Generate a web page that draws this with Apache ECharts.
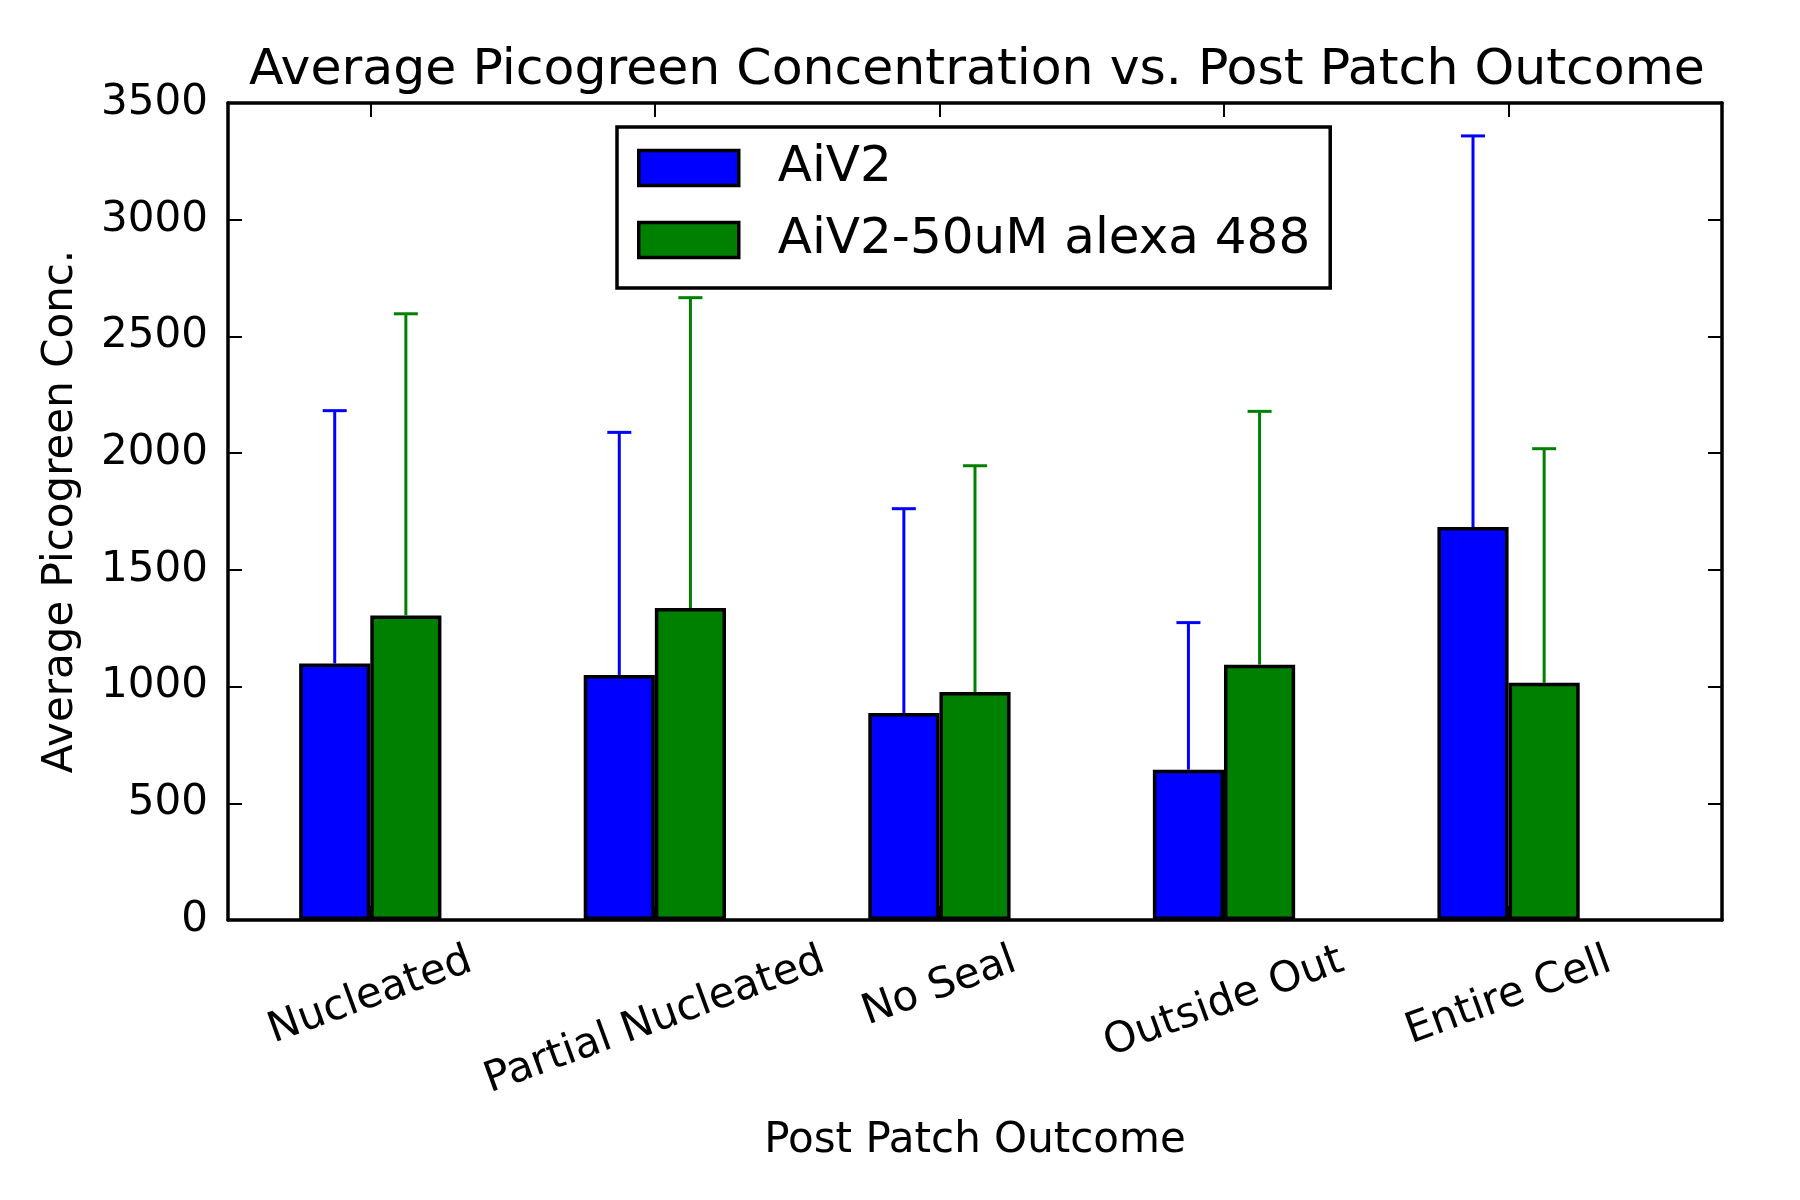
<!DOCTYPE html>
<html>
<head>
<meta charset="utf-8">
<script src="https://cdn.jsdelivr.net/npm/echarts@6/dist/echarts.min.js"></script>
<style>
html,body{margin:0;padding:0;background:#fff;}
#chart{width:1800px;height:1200px;}
</style>
</head>
<body>
<div id="chart"></div>
<script>
// ---- data ----
const categories = ['Nucleated', 'Partial Nucleated', 'No Seal', 'Outside Out', 'Entire Cell'];
const seriesNames = ['AiV2', 'AiV2-50uM alexa 488'];
const aiv2Mean = [1099, 1050, 887, 644, 1684];
const aiv2Err = [1083, 1039, 875, 630, 1675];
const alexaMean = [1304, 1337, 977, 1094, 1016];
const alexaErr = [1293, 1329, 969, 1085, 1003];
const yMin = 0, yMax = 3500, yStep = 500;

// ---- layout ----
const FONT = 'DejaVu Sans';
const gridLeft = 228, gridRight = 78, gridTop = 103, gridBottom = 280;
const plotW = 1800 - gridLeft - gridRight;
const xMin = -0.25, xMax = 5.0, barUnit = 0.25;
const barPx = plotW * barUnit / (xMax - xMin);
const tickPos = categories.map((c, i) => i + barUnit);
const LABEL_SIZE = 42;

// per-label shift so the rotated labels hang from a common top line (like matplotlib)
const cv = document.createElement('canvas').getContext('2d');
cv.font = LABEL_SIZE + 'px "' + FONT + '"';
const widths = categories.map(c => cv.measureText(c).width);
const wMin = Math.min.apply(null, widths);
const ang = 20 * Math.PI / 180;
const rich = {};
categories.forEach((c, i) => {
  const D = (widths[i] - wMin) * Math.sin(ang) / 2;
  rich['c' + i] = {
    fontSize: LABEL_SIZE, fontFamily: FONT, color: '#000',
    padding: [2 * D * Math.cos(ang), 2 * D * Math.sin(ang), 0, 0]
  };
});

function errorSeries(name, xs, means, errs, color) {
  return {
    type: 'custom', name: name, z: 5,
    itemStyle: {color: color},
    encode: {x: 0, y: 1},
    data: means.map((m, i) => [xs[i], m, errs[i]]),
    renderItem: function (params, api) {
      const x = api.value(0), m = api.value(1), e = api.value(2);
      const p0 = api.coord([x, m]);
      const p1 = api.coord([x, m + e]);
      return {
        type: 'group',
        children: [
          {type: 'line', shape: {x1: p0[0], y1: p0[1], x2: p1[0], y2: p1[1]}, style: {stroke: color, lineWidth: 3}},
          {type: 'line', shape: {x1: p1[0] - 12, y1: p1[1], x2: p1[0] + 12, y2: p1[1]}, style: {stroke: color, lineWidth: 3}}
        ]
      };
    }
  };
}

const blueX = categories.map((c, i) => i + barUnit / 2);
const greenX = categories.map((c, i) => i + barUnit * 1.5);

const axisLineStyle = {show: true, onZero: false, lineStyle: {color: '#000', width: 3.5}};
const tickStyle = {show: true, inside: true, length: 14, lineStyle: {color: '#000', width: 2}};

const option = {
  animation: false,
  backgroundColor: '#fff',
  title: {
    text: 'Average Picogreen Concentration vs. Post Patch Outcome',
    left: 244, top: 40,
    textStyle: {fontSize: 50.5, fontWeight: 'normal', color: '#000', fontFamily: FONT}
  },
  legend: {
    data: seriesNames,
    orient: 'vertical',
    left: 617, top: 127,
    itemWidth: 100, itemHeight: 35, itemGap: 22,
    icon: 'rect',
    itemStyle: {borderColor: '#000', borderWidth: 3.5},
    borderColor: '#000', borderWidth: 3.5, borderRadius: 0,
    backgroundColor: '#fff',
    padding: [16, 20, 23, 20],
    textStyle: {fontSize: 50, lineHeight: 50, fontFamily: FONT, color: '#000', padding: [0, 0, 0, 34]},
    z: 10
  },
  grid: {left: gridLeft, right: gridRight, top: gridTop, bottom: gridBottom, containLabel: false},
  xAxis: [
    {
      type: 'value', position: 'bottom', min: xMin, max: xMax,
      axisLine: axisLineStyle,
      axisTick: Object.assign({}, tickStyle, {customValues: tickPos}),
      axisLabel: {
        customValues: tickPos,
        rotate: 20, align: 'center', verticalAlign: 'middle', margin: 67,
        fontSize: LABEL_SIZE, fontFamily: FONT, color: '#000',
        formatter: function (v) {
          const i = Math.round(v - barUnit);
          return '{c' + i + '|' + categories[i] + '}';
        },
        rich: rich
      },
      splitLine: {show: false},
      name: 'Post Patch Outcome', nameLocation: 'middle', nameGap: 200,
      nameTextStyle: {fontSize: LABEL_SIZE, fontFamily: FONT, color: '#000'}
    },
    {
      type: 'value', position: 'top', min: xMin, max: xMax,
      axisLine: axisLineStyle,
      axisTick: Object.assign({}, tickStyle, {customValues: tickPos}),
      axisLabel: {show: false},
      splitLine: {show: false}
    }
  ],
  yAxis: [
    {
      type: 'value', position: 'left', min: yMin, max: yMax, interval: yStep,
      axisLine: axisLineStyle,
      axisTick: tickStyle,
      axisLabel: {fontSize: LABEL_SIZE, fontFamily: FONT, color: '#000', margin: 20,
        formatter: function (v) { return String(v); }},
      splitLine: {show: false},
      name: 'Average Picogreen Conc.', nameLocation: 'middle', nameGap: 146,
      nameTextStyle: {fontSize: LABEL_SIZE, fontFamily: FONT, color: '#000'}
    },
    {
      type: 'value', position: 'right', min: yMin, max: yMax, interval: yStep,
      axisLine: axisLineStyle,
      axisTick: tickStyle,
      axisLabel: {show: false},
      splitLine: {show: false}
    }
  ],
  series: [
    {
      type: 'bar', name: seriesNames[0], barWidth: barPx, barGap: '-100%',
      itemStyle: {color: '#0000ff', borderColor: '#000', borderWidth: 3.5},
      data: aiv2Mean.map((v, i) => [blueX[i], v])
    },
    {
      type: 'bar', name: seriesNames[1], barWidth: barPx, barGap: '-100%',
      itemStyle: {color: '#008000', borderColor: '#000', borderWidth: 3.5},
      data: alexaMean.map((v, i) => [greenX[i], v])
    },
    errorSeries('err1', blueX, aiv2Mean, aiv2Err, '#0000ff'),
    errorSeries('err2', greenX, alexaMean, alexaErr, '#008000')
  ]
};

const chart = echarts.init(document.getElementById('chart'), null, {renderer: 'canvas'});
chart.setOption(option);
</script>
</body>
</html>
